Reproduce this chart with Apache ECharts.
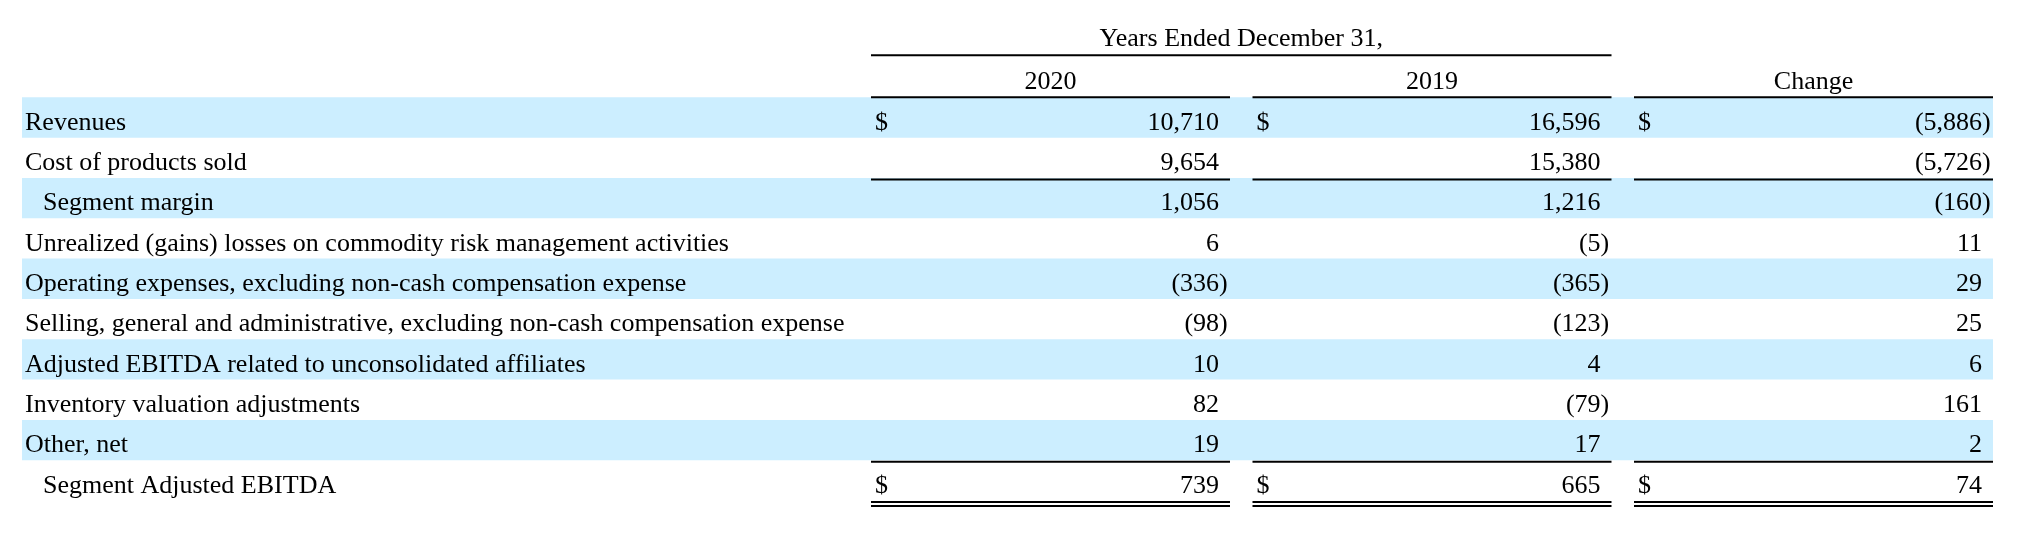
<!DOCTYPE html>
<html>
<head>
<meta charset="utf-8">
<script src="https://cdn.jsdelivr.net/npm/echarts@6/dist/echarts.min.js"></script>
<style>
html, body { margin: 0; padding: 0; background: #fff; }
#chart { width: 2020px; height: 560px; }
</style>
</head>
<body>
<div id="chart"></div>
<script>
// table data
const rowLabels = [
  'Revenues',
  'Cost of products sold',
  'Segment margin',
  'Unrealized (gains) losses on commodity risk management activities',
  'Operating expenses, excluding non-cash compensation expense',
  'Selling, general and administrative, excluding non-cash compensation expense',
  'Adjusted EBITDA related to unconsolidated affiliates',
  'Inventory valuation adjustments',
  'Other, net',
  'Segment Adjusted EBITDA'
];
const indentedRows = ['Segment margin', 'Segment Adjusted EBITDA'];
const columns = ['2020', '2019', 'Change'];
const headerTitle = 'Years Ended December 31,';
const values2020 = [10710, 9654, 1056, 6, -336, -98, 10, 82, 19, 739];
const values2019 = [16596, 15380, 1216, -5, -365, -123, 4, -79, 17, 665];
const valuesChange = [-5886, -5726, -160, 11, 29, 25, 6, 161, 2, 74];
const dollarRows = [0, 9];

// layout
const FONT_FAMILY = '"Liberation Serif", "Times New Roman", serif';
const FONT_SIZE = 26;
const FONT = FONT_SIZE + 'px ' + FONT_FAMILY;
const TOP = 97.3;
const ROW_H = 40.33;
const COL_GAP = 11.25;     // half of the white gap between column rules
const TEXT_DY = 5.5;       // optical shift of text inside a row
const PAREN_W = 8.7;       // ")" hangs right of the digit column
const singleRuleRows = [1, 8];
const doubleRuleRows = [9];
const BAND = '#CCEEFF';

const fmt = v => {
  const s = Math.abs(v).toLocaleString('en-US');
  return v < 0 ? '(' + s + ')' : s;
};

const allValues = [values2020, values2019, valuesChange];
const cells = [];
allValues.forEach((list, c) => {
  list.forEach((v, r) => cells.push([c, r, v]));
});

function txt(x, y, text, align) {
  return {
    type: 'text',
    style: {
      x: x, y: y, text: text, font: FONT, fill: '#000',
      align: align, textAlign: align,
      verticalAlign: 'middle', textVerticalAlign: 'middle'
    }
  };
}
function rule(xa, xb, y) {
  return {
    type: 'line',
    shape: { x1: xa, y1: y, x2: xb, y2: y },
    style: { stroke: '#000', lineWidth: 2 }
  };
}

function renderCell(params, api) {
  const c = api.value(0), r = api.value(1), v = api.value(2);
  const p = api.coord([c, r]);
  const size = api.size([1, 1]);
  const bw = size[0], rh = size[1];
  const x0 = p[0] - bw / 2 + COL_GAP;
  const x1 = p[0] + bw / 2 - COL_GAP;
  const yTop = p[1] - rh / 2;
  const yBot = p[1] + rh / 2;
  const ty = p[1] + TEXT_DY;
  const children = [];

  if (dollarRows.indexOf(r) >= 0) children.push(txt(x0 + 4, ty, '$', 'left'));
  children.push(txt(x1 - 11 + (v < 0 ? PAREN_W : 0), ty, fmt(v), 'right'));

  if (r === 0) {
    children.push(rule(x0, x1, yTop));
    if (c === 0) {
      // header spanning the two year columns
      const right = x1 + bw;
      children.push(rule(x0, right, yTop - 42));
      children.push(txt((x0 + right) / 2, yTop - 58, headerTitle, 'center'));
    }
  }
  if (singleRuleRows.indexOf(r) >= 0) children.push(rule(x0, x1, yBot + 1.5));
  if (doubleRuleRows.indexOf(r) >= 0) {
    children.push(rule(x0, x1, yBot + 1.5));
    children.push(rule(x0, x1, yBot + 5.5));
  }
  return { type: 'group', children: children };
}

const chart = echarts.init(document.getElementById('chart'));
const textStyle = { fontFamily: FONT_FAMILY, fontSize: FONT_SIZE, color: '#000' };

chart.setOption({
  backgroundColor: '#fff',
  animation: false,
  grid: [
    { left: 22, top: TOP, width: 1971, height: ROW_H * 10, outerBoundsMode: 'none' },
    { left: 859.75, top: TOP, width: 1144.5, height: ROW_H * 10, outerBoundsMode: 'none' }
  ],
  xAxis: [
    { gridIndex: 0, type: 'value', show: false },
    {
      gridIndex: 1, type: 'category', data: columns, position: 'top',
      axisLine: { show: false }, axisTick: { show: false },
      axisLabel: Object.assign({ margin: 2 }, textStyle),
      splitLine: { show: false }
    }
  ],
  yAxis: [
    {
      gridIndex: 0, type: 'category', data: rowLabels, inverse: true,
      axisLine: { show: false }, axisTick: { show: false },
      splitLine: { show: false },
      splitArea: { show: true, areaStyle: { color: [BAND, 'rgba(255,255,255,0)'] } },
      axisLabel: {
        align: 'left',
        margin: -3,
        formatter: v => indentedRows.indexOf(v) >= 0 ? '{ind|' + v + '}' : '{base|' + v + '}',
        rich: {
          base: Object.assign({ padding: [2 * TEXT_DY, 0, 0, 0] }, textStyle),
          ind: Object.assign({ padding: [2 * TEXT_DY, 0, 0, 18] }, textStyle)
        }
      }
    },
    {
      gridIndex: 1, type: 'category', data: rowLabels, inverse: true, show: false
    }
  ],
  series: [
    {
      type: 'custom',
      xAxisIndex: 1,
      yAxisIndex: 1,
      clip: false,
      silent: true,
      renderItem: renderCell,
      data: cells
    }
  ]
});
</script>
</body>
</html>
